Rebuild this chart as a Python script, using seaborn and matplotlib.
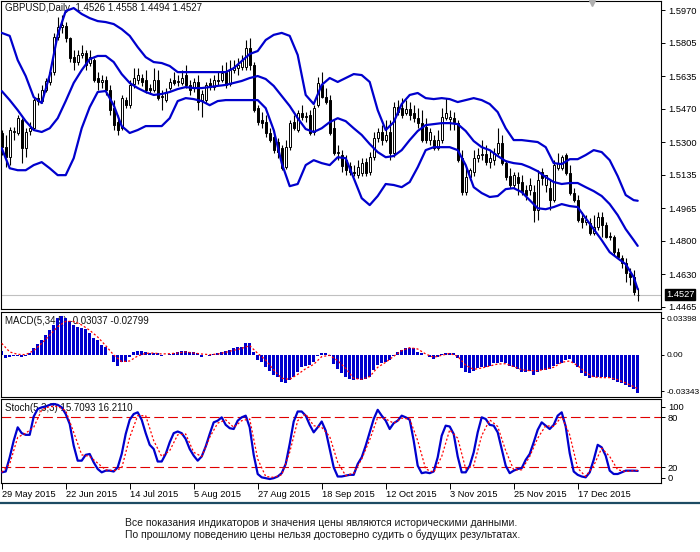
import numpy as np
import pandas as pd
import matplotlib
matplotlib.use("Agg")
import matplotlib.pyplot as plt
import matplotlib.transforms as mtransforms
from matplotlib.lines import Line2D
import seaborn as sns

# ---------------- data ----------------
symbol = "GBPUSD"
timeframe = "Daily"
first_date = "2015-05-29"

open_ = [1.5347, 1.5275, 1.5224, 1.5352, 1.5347, 1.5412, 1.5270, 1.5357, 1.5371, 1.5524,
         1.5509, 1.5565, 1.5606, 1.5656, 1.5834, 1.5884, 1.5890, 1.5829, 1.5732, 1.5707,
         1.5743, 1.5753, 1.5702, 1.5717, 1.5626, 1.5606, 1.5616, 1.5565, 1.5473, 1.5402,
         1.5371, 1.5514, 1.5488, 1.5596, 1.5616, 1.5626, 1.5616, 1.5575, 1.5565, 1.5616,
         1.5529, 1.5514, 1.5575, 1.5616, 1.5606, 1.5601, 1.5641, 1.5591, 1.5575, 1.5606,
         1.5514, 1.5514, 1.5601, 1.5580, 1.5616, 1.5616, 1.5656, 1.5596, 1.5666, 1.5676,
         1.5682, 1.5682, 1.5778, 1.5692, 1.5473, 1.5412, 1.5402, 1.5347, 1.5326, 1.5301,
         1.5270, 1.5173, 1.5275, 1.5402, 1.5362, 1.5448, 1.5428, 1.5438, 1.5352, 1.5488,
         1.5591, 1.5529, 1.5514, 1.5371, 1.5245, 1.5235, 1.5209, 1.5179, 1.5148, 1.5133,
         1.5143, 1.5199, 1.5148, 1.5224, 1.5321, 1.5352, 1.5311, 1.5352, 1.5245, 1.5478,
         1.5473, 1.5448, 1.5468, 1.5448, 1.5422, 1.5397, 1.5376, 1.5311, 1.5311, 1.5270,
         1.5311, 1.5422, 1.5417, 1.5422, 1.5397, 1.5219, 1.5047, 1.5123, 1.5148, 1.5219,
         1.5235, 1.5240, 1.5199, 1.5209, 1.5245, 1.5296, 1.5194, 1.5128, 1.5083, 1.5123,
         1.5098, 1.5057, 1.5057, 1.5047, 1.4955, 1.5148, 1.5083, 1.5067, 1.5006, 1.5168,
         1.5168, 1.5235, 1.5143, 1.5042, 1.5006, 1.4914, 1.4894, 1.4889, 1.4839, 1.4869,
         1.4920, 1.4879, 1.4818, 1.4818, 1.4742, 1.4711, 1.4686, 1.4635, 1.4615, 1.4526]

high = [1.5362, 1.5337, 1.5376, 1.5376, 1.5438, 1.5422, 1.5371, 1.5402, 1.5524, 1.5550,
        1.5591, 1.5625, 1.5666, 1.5855, 1.5935, 1.5946, 1.5910, 1.5834, 1.5768, 1.5768,
        1.5794, 1.5768, 1.5768, 1.5727, 1.5656, 1.5641, 1.5636, 1.5591, 1.5514, 1.5438,
        1.5540, 1.5529, 1.5616, 1.5676, 1.5676, 1.5646, 1.5666, 1.5596, 1.5676, 1.5666,
        1.5565, 1.5575, 1.5626, 1.5656, 1.5641, 1.5666, 1.5692, 1.5616, 1.5626, 1.5641,
        1.5565, 1.5606, 1.5626, 1.5641, 1.5656, 1.5692, 1.5707, 1.5717, 1.5717, 1.5727,
        1.5743, 1.5819, 1.5829, 1.5707, 1.5488, 1.5453, 1.5438, 1.5371, 1.5362, 1.5321,
        1.5285, 1.5311, 1.5412, 1.5438, 1.5463, 1.5488, 1.5453, 1.5463, 1.5488, 1.5631,
        1.5656, 1.5575, 1.5540, 1.5412, 1.5285, 1.5260, 1.5235, 1.5199, 1.5184, 1.5209,
        1.5219, 1.5219, 1.5250, 1.5352, 1.5371, 1.5387, 1.5412, 1.5412, 1.5504, 1.5514,
        1.5524, 1.5514, 1.5504, 1.5488, 1.5473, 1.5463, 1.5422, 1.5371, 1.5337, 1.5362,
        1.5473, 1.5524, 1.5463, 1.5453, 1.5412, 1.5260, 1.5168, 1.5168, 1.5260, 1.5270,
        1.5311, 1.5285, 1.5260, 1.5270, 1.5371, 1.5337, 1.5209, 1.5168, 1.5148, 1.5148,
        1.5133, 1.5083, 1.5118, 1.5083, 1.5158, 1.5168, 1.5133, 1.5108, 1.5209, 1.5245,
        1.5235, 1.5245, 1.5184, 1.5067, 1.5032, 1.4945, 1.4930, 1.4914, 1.4930, 1.4945,
        1.4945, 1.4894, 1.4844, 1.4829, 1.4762, 1.4727, 1.4711, 1.4661, 1.4650, 1.4558]

low = [1.5235, 1.5173, 1.5184, 1.5311, 1.5337, 1.5194, 1.5224, 1.5337, 1.5362, 1.5488,
       1.5499, 1.5555, 1.5591, 1.5641, 1.5819, 1.5855, 1.5809, 1.5707, 1.5666, 1.5692,
       1.5727, 1.5666, 1.5687, 1.5606, 1.5565, 1.5575, 1.5540, 1.5438, 1.5362, 1.5337,
       1.5362, 1.5473, 1.5473, 1.5575, 1.5596, 1.5586, 1.5550, 1.5545, 1.5555, 1.5514,
       1.5463, 1.5504, 1.5565, 1.5591, 1.5586, 1.5591, 1.5575, 1.5540, 1.5555, 1.5463,
       1.5428, 1.5499, 1.5565, 1.5565, 1.5591, 1.5606, 1.5575, 1.5586, 1.5651, 1.5641,
       1.5666, 1.5666, 1.5666, 1.5453, 1.5387, 1.5371, 1.5326, 1.5301, 1.5245, 1.5219,
       1.5158, 1.5163, 1.5260, 1.5362, 1.5352, 1.5412, 1.5402, 1.5337, 1.5337, 1.5478,
       1.5524, 1.5494, 1.5337, 1.5235, 1.5209, 1.5148, 1.5133, 1.5133, 1.5128, 1.5118,
       1.5128, 1.5128, 1.5133, 1.5209, 1.5301, 1.5285, 1.5301, 1.5209, 1.5224, 1.5438,
       1.5422, 1.5438, 1.5412, 1.5402, 1.5371, 1.5301, 1.5296, 1.5285, 1.5260, 1.5260,
       1.5296, 1.5412, 1.5362, 1.5362, 1.5199, 1.5032, 1.5032, 1.5108, 1.5128, 1.5199,
       1.5209, 1.5184, 1.5168, 1.5184, 1.5235, 1.5184, 1.5108, 1.5067, 1.5067, 1.5032,
       1.5032, 1.5006, 1.5032, 1.4894, 1.4904, 1.5083, 1.5047, 1.4955, 1.4996, 1.5158,
       1.5158, 1.5133, 1.5032, 1.4996, 1.4894, 1.4864, 1.4879, 1.4829, 1.4829, 1.4854,
       1.4818, 1.4813, 1.4803, 1.4727, 1.4711, 1.4661, 1.4590, 1.4574, 1.4524, 1.4494]

close = [1.5275, 1.5224, 1.5362, 1.5357, 1.5422, 1.5270, 1.5352, 1.5371, 1.5514, 1.5509,
         1.5565, 1.5611, 1.5656, 1.5834, 1.5884, 1.5895, 1.5829, 1.5727, 1.5707, 1.5743,
         1.5753, 1.5692, 1.5732, 1.5616, 1.5606, 1.5616, 1.5565, 1.5463, 1.5387, 1.5362,
         1.5524, 1.5488, 1.5591, 1.5626, 1.5641, 1.5606, 1.5565, 1.5565, 1.5616, 1.5524,
         1.5534, 1.5555, 1.5606, 1.5601, 1.5611, 1.5626, 1.5591, 1.5565, 1.5606, 1.5504,
         1.5545, 1.5591, 1.5580, 1.5616, 1.5611, 1.5651, 1.5591, 1.5666, 1.5682, 1.5692,
         1.5717, 1.5778, 1.5692, 1.5463, 1.5402, 1.5397, 1.5347, 1.5311, 1.5260, 1.5250,
         1.5168, 1.5275, 1.5397, 1.5371, 1.5448, 1.5428, 1.5433, 1.5347, 1.5473, 1.5601,
         1.5529, 1.5504, 1.5347, 1.5245, 1.5250, 1.5179, 1.5158, 1.5148, 1.5143, 1.5173,
         1.5194, 1.5143, 1.5224, 1.5321, 1.5352, 1.5311, 1.5337, 1.5245, 1.5478, 1.5453,
         1.5438, 1.5468, 1.5438, 1.5422, 1.5397, 1.5311, 1.5311, 1.5352, 1.5270, 1.5311,
         1.5428, 1.5448, 1.5428, 1.5402, 1.5209, 1.5047, 1.5123, 1.5158, 1.5219, 1.5235,
         1.5240, 1.5199, 1.5219, 1.5245, 1.5296, 1.5194, 1.5123, 1.5083, 1.5133, 1.5093,
         1.5047, 1.5032, 1.5083, 1.4955, 1.5108, 1.5118, 1.5133, 1.5006, 1.5184, 1.5194,
         1.5224, 1.5143, 1.5042, 1.5006, 1.4904, 1.4894, 1.4904, 1.4839, 1.4869, 1.4920,
         1.4879, 1.4818, 1.4823, 1.4742, 1.4716, 1.4686, 1.4635, 1.4615, 1.4539, 1.4527]

# indicator lines are read at every second bar (and the last bar)
sample_idx = list(range(0, 160, 2)) + [159]

bb_upper = [1.5855, 1.5840, 1.5717, 1.5636, 1.5529, 1.5499, 1.5641, 1.5845, 1.5966, 1.5981,
            1.5951, 1.5930, 1.5915, 1.5910, 1.5900, 1.5874, 1.5840, 1.5783, 1.5732, 1.5707,
            1.5702, 1.5687, 1.5656, 1.5656, 1.5656, 1.5656, 1.5656, 1.5656, 1.5656, 1.5676,
            1.5712, 1.5748, 1.5763, 1.5819, 1.5845, 1.5855, 1.5840, 1.5743, 1.5540, 1.5494,
            1.5591, 1.5626, 1.5606, 1.5626, 1.5646, 1.5641, 1.5606, 1.5463, 1.5362, 1.5402,
            1.5494, 1.5540, 1.5550, 1.5524, 1.5519, 1.5524, 1.5519, 1.5504, 1.5514, 1.5524,
            1.5514, 1.5494, 1.5453, 1.5371, 1.5311, 1.5311, 1.5306, 1.5301, 1.5275, 1.5194,
            1.5189, 1.5214, 1.5214, 1.5235, 1.5260, 1.5250, 1.5209, 1.5128, 1.5032, 1.5006,
            1.5003]

bb_middle = [1.5560, 1.5514, 1.5463, 1.5407, 1.5362, 1.5352, 1.5371, 1.5422, 1.5509, 1.5601,
             1.5666, 1.5722, 1.5738, 1.5738, 1.5707, 1.5646, 1.5601, 1.5575, 1.5555, 1.5540,
             1.5545, 1.5555, 1.5570, 1.5580, 1.5575, 1.5575, 1.5580, 1.5586, 1.5591, 1.5601,
             1.5611, 1.5626, 1.5636, 1.5621, 1.5586, 1.5535, 1.5484, 1.5422, 1.5367, 1.5352,
             1.5371, 1.5402, 1.5422, 1.5407, 1.5371, 1.5337, 1.5291, 1.5250, 1.5224, 1.5230,
             1.5260, 1.5311, 1.5357, 1.5387, 1.5392, 1.5397, 1.5397, 1.5392, 1.5357, 1.5306,
             1.5275, 1.5260, 1.5230, 1.5204, 1.5194, 1.5189, 1.5173, 1.5153, 1.5123, 1.5098,
             1.5088, 1.5093, 1.5093, 1.5072, 1.5052, 1.5027, 1.4986, 1.4930, 1.4859, 1.4803,
             1.4774]

bb_lower = [1.5270, 1.5168, 1.5158, 1.5158, 1.5184, 1.5199, 1.5168, 1.5133, 1.5133, 1.5219,
            1.5371, 1.5478, 1.5555, 1.5560, 1.5488, 1.5382, 1.5347, 1.5362, 1.5382, 1.5382,
            1.5382, 1.5422, 1.5509, 1.5524, 1.5519, 1.5509, 1.5488, 1.5509, 1.5514, 1.5514,
            1.5514, 1.5514, 1.5514, 1.5473, 1.5362, 1.5194, 1.5077, 1.5088, 1.5184, 1.5209,
            1.5194, 1.5184, 1.5224, 1.5219, 1.5118, 1.5016, 1.4981, 1.5027, 1.5088, 1.5083,
            1.5072, 1.5098, 1.5173, 1.5260, 1.5275, 1.5275, 1.5275, 1.5260, 1.5184, 1.5072,
            1.5042, 1.5022, 1.5027, 1.5062, 1.5067, 1.5047, 1.5006, 1.4965, 1.4960, 1.4971,
            1.4986, 1.4976, 1.4971, 1.4914, 1.4859, 1.4803, 1.4742, 1.4711, 1.4681, 1.4615,
            1.4554]

macd_hist = [0.0037, -0.0025, -0.0018, -0.0009, -0.0009, -0.0015, -0.0009, 0.0015, 0.0067, 0.0101,
             0.0138, 0.0184, 0.0230, 0.0276, 0.0337, 0.0358, 0.0337, 0.0316, 0.0276, 0.0260,
             0.0251, 0.0236, 0.0199, 0.0153, 0.0138, 0.0092, 0.0077, -0.0003, -0.0061, -0.0101,
             -0.0061, -0.0061, -0.0015, 0.0031, 0.0040, 0.0040, 0.0031, 0.0021, 0.0021, 0.0015,
             -0.0009, -0.0003, 0.0009, 0.0021, 0.0028, 0.0034, 0.0037, 0.0028, 0.0031, 0.0015,
             -0.0021, -0.0003, -0.0006, 0.0009, 0.0021, 0.0031, 0.0040, 0.0046, 0.0061, 0.0077,
             0.0077, 0.0113, 0.0107, 0.0031, -0.0046, -0.0061, -0.0107, -0.0144, -0.0184, -0.0205,
             -0.0245, -0.0260, -0.0230, -0.0199, -0.0153, -0.0113, -0.0101, -0.0092, -0.0061, -0.0009,
             0.0021, 0.0021, -0.0009, -0.0083, -0.0132, -0.0168, -0.0199, -0.0222, -0.0230, -0.0224,
             -0.0230, -0.0218, -0.0199, -0.0138, -0.0092, -0.0070, -0.0061, -0.0046, -0.0009, 0.0031,
             0.0046, 0.0061, 0.0067, 0.0067, 0.0031, 0.0015, -0.0003, -0.0021, -0.0040, -0.0021,
             0.0009, 0.0021, 0.0021, 0.0021, -0.0031, -0.0123, -0.0153, -0.0162, -0.0144, -0.0123,
             -0.0107, -0.0113, -0.0101, -0.0077, -0.0070, -0.0064, -0.0077, -0.0101, -0.0113, -0.0132,
             -0.0153, -0.0156, -0.0144, -0.0184, -0.0153, -0.0138, -0.0138, -0.0132, -0.0101, -0.0083,
             -0.0070, -0.0046, -0.0040, -0.0070, -0.0113, -0.0168, -0.0193, -0.0214, -0.0205, -0.0199,
             -0.0205, -0.0205, -0.0214, -0.0230, -0.0245, -0.0260, -0.0276, -0.0297, -0.0316, -0.0345]

macd_signal = [0.0107, 0.0028, 0.0006, 0.0003, 0.0040, 0.0107, 0.0181, 0.0260, 0.0309, 0.0309,
               0.0276, 0.0227, 0.0165, 0.0086, 0.0000, -0.0061, -0.0055, -0.0009, 0.0015, 0.0018,
               0.0009, 0.0012, 0.0018, 0.0028, 0.0018, 0.0009, 0.0003, 0.0009, 0.0025, 0.0043,
               0.0061, 0.0086, 0.0015, -0.0046, -0.0138, -0.0214, -0.0224, -0.0178, -0.0126, -0.0086,
               -0.0015, -0.0003, -0.0052, -0.0123, -0.0214, -0.0224, -0.0199, -0.0113, -0.0067, -0.0012,
               0.0040, 0.0067, 0.0055, 0.0009, -0.0021, -0.0003, 0.0015, -0.0012, -0.0095, -0.0132,
               -0.0120, -0.0101, -0.0083, -0.0080, -0.0107, -0.0135, -0.0144, -0.0144, -0.0129, -0.0113,
               -0.0067, -0.0055, -0.0098, -0.0162, -0.0202, -0.0208, -0.0208, -0.0227, -0.0257, -0.0291,
               -0.0309]

stoch_main = [14, 15, 32, 52, 68, 61, 59, 59, 81, 90,
              92, 93, 95, 96, 95, 92, 84, 72, 46, 28,
              28, 35, 36, 26, 18, 14, 16, 16, 15, 20,
              36, 60, 77, 84, 86, 77, 61, 47, 42, 27,
              27, 36, 50, 61, 63, 61, 54, 42, 34, 28,
              33, 45, 60, 74, 76, 80, 71, 67, 66, 76,
              80, 82, 68, 35, 12, 8, 7, 6, 7, 9,
              13, 24, 48, 75, 87, 87, 82, 71, 62, 68,
              75, 64, 42, 20, 9, 9, 10, 11, 11, 24,
              32, 46, 62, 78, 89, 82, 76, 66, 73, 76,
              82, 80, 77, 52, 22, 13, 14, 13, 15, 32,
              58, 70, 69, 60, 33, 14, 14, 22, 38, 62,
              80, 78, 71, 70, 62, 42, 22, 13, 16, 18,
              19, 29, 36, 50, 65, 74, 70, 66, 71, 82,
              86, 69, 37, 15, 11, 9, 8, 14, 29, 47,
              44, 34, 16, 12, 12, 14, 16, 16, 16, 15.7093]

stoch_signal = [14, 24, 56, 61, 68, 89, 93, 93, 88, 62,
                35, 33, 25, 17, 16, 19, 56, 82, 82, 52,
                33, 40, 59, 60, 38, 33, 56, 73, 77, 68,
                76, 78, 30, 9, 8, 11, 38, 76, 84, 70,
                68, 57, 26, 10, 13, 30, 53, 80, 78, 73,
                79, 78, 52, 18, 14, 33, 65, 55, 18, 22,
                58, 77, 69, 40, 17, 17, 33, 55, 70, 69,
                81, 59, 19, 9, 22, 43, 33, 17, 15, 16,
                16.2110]

price_ticks = [1.5970, 1.5805, 1.5635, 1.5470, 1.5300, 1.5135, 1.4965, 1.4800, 1.4630, 1.4465]
macd_ticks = [0.03398, 0.0, -0.03343]
macd_tick_labels = ["0.03398", "0.00", "-0.03343"]
stoch_levels = [80, 20]
stoch_tick_labels = ["100", "80", "20", "0"]
macd_title = "MACD(5,34,5) -0.03037 -0.02799"
stoch_title = "Stoch(5,3,3) 15.7093 16.2110"
disclaimer = ["Все показания индикаторов и значения цены являются историческими данными.",
              "По прошлому поведению цены нельзя достоверно судить о будущих результатах."]

# ---------------- style ----------------
sns.set_theme(style="white")
plt.rcParams["font.family"] = ["Liberation Sans", "DejaVu Sans"]
plt.rcParams["lines.scale_dashes"] = False
plt.rcParams["axes.linewidth"] = 0.8

W, H = 700, 552
BLUE = "#0000cd"
RED = "#ff0000"
FS = 6.7

fig = plt.figure(figsize=(W / 100, H / 100), dpi=100)
fig.patch.set_facecolor("white")


def rect(x0, y0, x1, y1):
    return [x0 / W, 1 - y1 / H, (x1 - x0) / W, (y1 - y0) / H]


ax = fig.add_axes(rect(0.5, 0.5, 661, 309))
axm = fig.add_axes(rect(0.5, 312, 661, 397))
axs = fig.add_axes(rect(0.5, 399, 661, 483))

n = len(close)
xs = np.arange(n)
dates = pd.bdate_range(first_date, periods=n)

for a in (ax, axm, axs):
    a.set_facecolor("white")
    a.set_xlim(-0.3, 164.825)
    for s in a.spines.values():
        s.set_color("black")
        s.set_linewidth(0.8)
    a.yaxis.set_ticks_position("right")
    a.tick_params(axis="y", direction="out", length=3, width=0.7, pad=2,
                  labelsize=FS, colors="black", right=True, left=False)
    a.grid(False)

# ---------------- main price panel ----------------
o = np.array(open_); c = np.array(close); h = np.array(high); l = np.array(low)
ax.vlines(xs, l, h, color="black", lw=0.8, zorder=2)
body_bottom = np.minimum(o, c)
body_h = np.maximum(np.abs(c - o), 0.00006)
face = ["white" if cc >= oo else "black" for oo, cc in zip(o, c)]
ax.bar(xs, body_h, bottom=body_bottom, width=0.6, color=face, edgecolor="black",
       linewidth=0.7, zorder=3)

for band in (bb_upper, bb_middle, bb_lower):
    sns.lineplot(x=sample_idx, y=band, ax=ax, color=BLUE, lw=1.6, zorder=4)

ax.axhline(close[-1], color="#c0c0c0", lw=0.8, zorder=1)
ax.set_ylim(1.44535, 1.60195)
ax.set_yticks(price_ticks)
ax.set_yticklabels([f"{p:.4f}" for p in price_ticks])
ax.tick_params(axis="x", bottom=False, labelbottom=False)
ax.set_xlabel(""); ax.set_ylabel("")
ax.text(4.5 / 660.5, 1 - 7.5 / 308.5,
        f"{symbol},{timeframe}  {open_[-1]:.4f} {high[-1]:.4f} {low[-1]:.4f} {close[-1]:.4f}",
        transform=ax.transAxes, ha="left", va="center", fontsize=7, color="#111111", zorder=0.5)
trans = mtransforms.blended_transform_factory(ax.transAxes, ax.transData)
ax.text(1 + 5 / 660.5, close[-1], f"{close[-1]:.4f}", transform=trans, ha="left", va="center",
        fontsize=FS, color="white",
        bbox=dict(boxstyle="square,pad=0.12", fc="black", ec="black"), clip_on=False)
ax.plot([(592 - 0.5) / 660.5], [1 - 2.5 / 308.5], marker="v", ms=5, color="#b0b0b0",
        transform=ax.transAxes, clip_on=False, zorder=6)

# ---------------- MACD panel ----------------
axm.bar(xs, macd_hist, width=0.72, color=BLUE, linewidth=0, zorder=2)
sns.lineplot(x=sample_idx, y=macd_signal, ax=axm, color=RED, lw=0.9,
             linestyle=(0, (1.5, 1.5)), zorder=3)
axm.set_ylim(-0.0386, 0.0395)
axm.set_yticks(macd_ticks)
axm.set_yticklabels(macd_tick_labels)
axm.tick_params(axis="y", labelsize=6.0, pad=1.5, length=2.5)
axm.tick_params(axis="x", bottom=False, labelbottom=False)
axm.set_xlabel(""); axm.set_ylabel("")
axm.text(4.5 / 660.5, 1 - 9 / 85, macd_title, transform=axm.transAxes, ha="left",
         va="center", fontsize=7, color="#111111", zorder=0.5)

# ---------------- Stochastic panel ----------------
for lev in stoch_levels:
    axs.axhline(lev, color="#e00000", lw=0.8, linestyle=(0, (7, 3)), zorder=1)
sns.lineplot(x=xs, y=stoch_main, ax=axs, color=BLUE, lw=1.6, zorder=3)
sns.lineplot(x=sample_idx, y=stoch_signal, ax=axs, color=RED, lw=0.9,
             linestyle=(0, (1.5, 1.5)), zorder=4)
axs.set_ylim(1.2, 102)
axs.set_yticks([92.5, 80, 20, 7.5])
axs.set_yticklabels(stoch_tick_labels)
axs.set_xlabel(""); axs.set_ylabel("")
axs.text(4.5 / 660.5, 1 - 9 / 84, stoch_title, transform=axs.transAxes, ha="left",
         va="center", fontsize=7, color="#111111", zorder=0.5)

label_idx = list(range(0, n, 16))
axs.set_xticks(label_idx)
axs.set_xticklabels([f"{dates[i].day} {dates[i].strftime('%b %Y')}" for i in label_idx],
                    ha="left")
axs.tick_params(axis="x", bottom=True, direction="out", length=4, width=0.7, pad=1,
                labelsize=FS, colors="black")

# ---------------- footer ----------------
fig.add_artist(Line2D([0, 1], [1 - 503 / H, 1 - 503 / H], color="#1d4b63", lw=1.6))
for k, line in enumerate(disclaimer):
    fig.text(125 / W, 1 - (523 + 12 * k) / H, line, ha="left", va="center",
             fontsize=7.5, color="#1a1a1a")

fig.savefig("out.png", dpi=100, facecolor="white")
